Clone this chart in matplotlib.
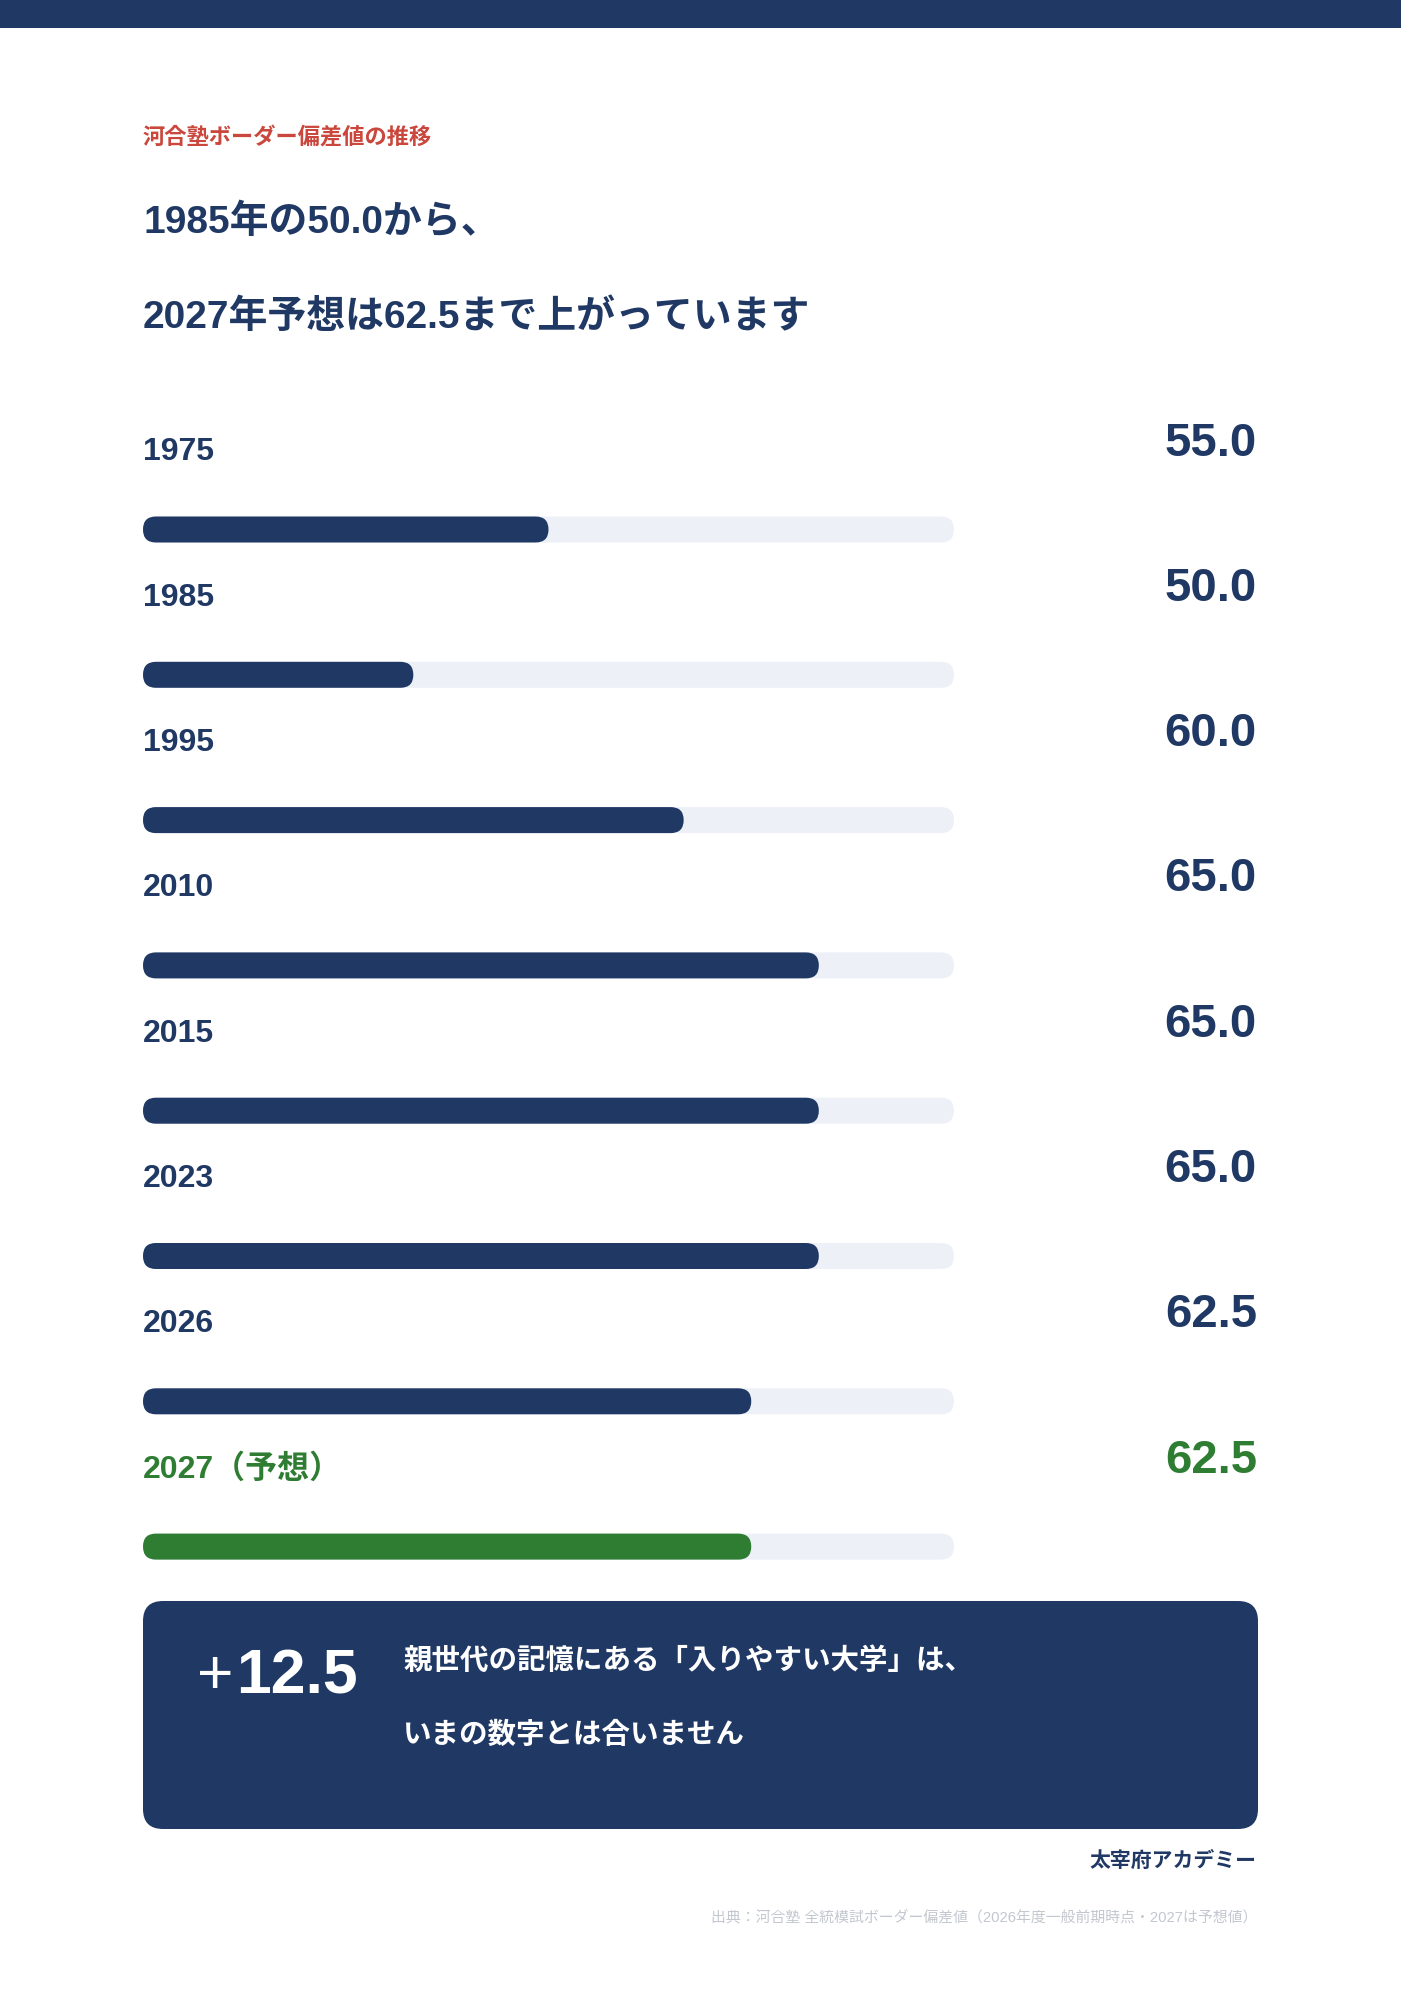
import matplotlib
matplotlib.use('Agg')
import matplotlib.pyplot as plt
from matplotlib.patches import FancyBboxPatch, Rectangle
from matplotlib.transforms import blended_transform_factory

plt.rcParams['font.family'] = ['Liberation Sans', 'Noto Sans CJK JP', 'DejaVu Sans']

# ---- data ----
years = ['1975', '1985', '1995', '2010', '2015', '2023', '2026', '2027（予想）']
values = [55.0, 50.0, 60.0, 65.0, 65.0, 65.0, 62.5, 62.5]
is_forecast = [False, False, False, False, False, False, False, True]
scale_min, scale_max = 40, 70
kicker = '河合塾ボーダー偏差値の推移'
title_lines = ['1985年の50.0から、', '2027年予想は62.5まで上がっています']
delta_sign = '+'
delta_value = '12.5'
callout_lines = ['親世代の記憶にある「入りやすい大学」は、', 'いまの数字とは合いません']
brand = '太宰府アカデミー'
source = '出典：河合塾 全統模試ボーダー偏差値（2026年度一般前期時点・2027は予想値）'

NAVY = '#203864'
GREEN = '#2e7d32'
TRACK = '#edf0f7'
RED = '#c9473c'
GREY = '#c3c7cf'

W, H = 1401, 2000
fig = plt.figure(figsize=(W / 100, H / 100), dpi=100)
fig.patch.set_facecolor('white')
ax0 = fig.add_axes([0, 0, 1, 1])
ax0.set_xlim(0, W)
ax0.set_ylim(H, 0)
ax0.axis('off')

# top band
ax0.add_patch(Rectangle((0, 0), W, 28, color=NAVY, lw=0))

# header texts
ax0.text(143, 144, kicker, color=RED, fontsize=16, fontweight='bold', va='baseline', ha='left')
ax0.text(143, 233, title_lines[0], color=NAVY, fontsize=28, fontweight='bold', va='baseline', ha='left')
ax0.text(143, 328, title_lines[1], color=NAVY, fontsize=28, fontweight='bold', va='baseline', ha='left')

# ---- bars axes ----
n = len(years)
row_px = 145.3
first_center = 529.5
left_px, right_px = 143, 954
top_px = first_center - row_px / 2
bot_px = first_center + (n - 0.5) * row_px
ax_b = fig.add_axes([left_px / W, 1 - bot_px / H, (right_px - left_px) / W, (bot_px - top_px) / H])
ax_b.set_xlim(scale_min, scale_max)
ax_b.set_ylim(n - 0.5, -0.5)
ax_b.axis('off')
ax_b.patch.set_alpha(0)

bar_px = 26
sx = (scale_max - scale_min) / (right_px - left_px)
sy = 1.0 / row_px
bar_h = bar_px * sy
r = bar_px / 2


def rounded(rect, color):
    x, y = rect.get_xy()
    w, h = rect.get_width(), rect.get_height()
    p = FancyBboxPatch((x, y), w, h,
                       boxstyle='round,pad=0,rounding_size=%f' % (r * sx),
                       mutation_aspect=sy / sx, fc=color, ec='none', lw=0, clip_on=False)
    ax_b.add_patch(p)
    rect.remove()


tracks = ax_b.barh(range(n), [scale_max - scale_min] * n, left=scale_min, height=bar_h)
for rect in list(tracks):
    rounded(rect, TRACK)
fills = ax_b.barh(range(n), [v - scale_min for v in values], left=scale_min, height=bar_h)
for rect, f in zip(list(fills), is_forecast):
    rounded(rect, GREEN if f else NAVY)

trans_val = blended_transform_factory(ax0.transData, ax_b.transData)
for i, (yr, v, f) in enumerate(zip(years, values, is_forecast)):
    c = GREEN if f else NAVY
    ax_b.text(scale_min, i - 69 / row_px, yr, color=c, fontsize=23, fontweight='bold',
              va='baseline', ha='left', clip_on=False)
    ax_b.text(1257, i - 74 / row_px, '%.1f' % v, color=c, fontsize=34, fontweight='bold',
              va='baseline', ha='right', transform=trans_val, clip_on=False)

# ---- callout box ----
ax0.add_patch(FancyBboxPatch((143, 1601), 1115, 228,
                             boxstyle='round,pad=0,rounding_size=20', fc=NAVY, ec='none'))
ax0.text(233, 1694, delta_sign, color='white', fontsize=45, fontweight='normal', va='baseline', ha='right')
ax0.text(236, 1694, delta_value, color='white', fontsize=45, fontweight='bold', va='baseline', ha='left')
ax0.text(403, 1669, callout_lines[0], color='white', fontsize=20.5, fontweight='bold', va='baseline', ha='left')
ax0.text(403, 1743, callout_lines[1], color='white', fontsize=20.5, fontweight='bold', va='baseline', ha='left')

ax0.text(1257, 1867, brand, color=NAVY, fontsize=15, fontweight='bold', va='baseline', ha='right')
ax0.text(1257, 1922, source, color=GREY, fontsize=10.7, va='baseline', ha='right')

fig.savefig('out.png', dpi=100, facecolor='white')
